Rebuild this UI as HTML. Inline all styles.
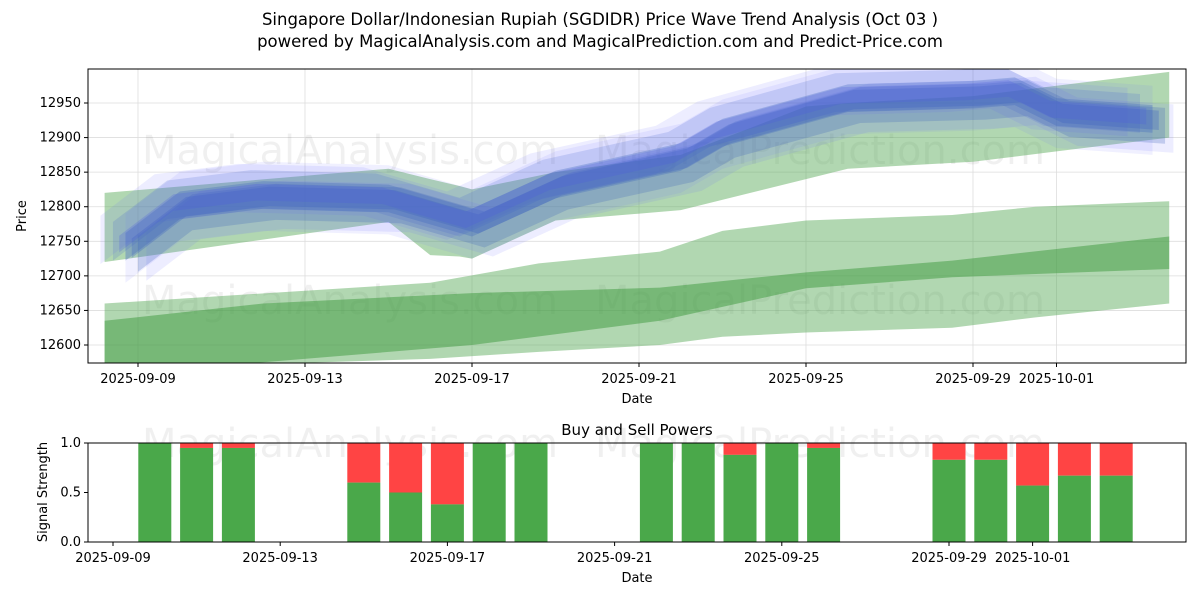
<!DOCTYPE html>
<html><head><meta charset="utf-8"><style>
body{margin:0;background:#fff;font-family:"Liberation Sans","DejaVu Sans",sans-serif}
svg text{font-family:"DejaVu Sans","Liberation Sans",sans-serif}
</style></head><body>
<svg id="c" width="1200" height="600" xmlns="http://www.w3.org/2000/svg">
<text x="600" y="25" font-size="16.5" text-anchor="middle">Singapore Dollar/Indonesian Rupiah (SGDIDR) Price Wave Trend Analysis (Oct 03 )</text>
<text x="600" y="47" font-size="16.5" text-anchor="middle">powered by MagicalAnalysis.com and MagicalPrediction.com and Predict-Price.com</text>
<g id="topPanel"></g>
<g id="botPanel"></g>
</svg>
<script>
// ---- data (day offsets from 2025-09-09) ----
const upperDates=[-0.8,6,7,7.7,8,10,13,16,17,20,22,24.7];
const upperTop=[12820,12855,12840,12830,12825,12850,12875,12945,12950,12960,12975,12995];
const upperBot=[12720,12778,12730,12728,12725,12780,12795,12840,12855,12865,12880,12900];
const lightDates=[-0.8,7,9.6,12.5,14,16,19.5,21.5,24.7];
const lightTop=[12660,12690,12718,12735,12765,12780,12788,12800,12808];
const lightBot=[12565,12580,12590,12600,12612,12618,12625,12640,12660];
const darkDates=[-0.8,3,8,12.5,16,19.5,24.7];
const darkTop=[12635,12660,12675,12683,12705,12722,12757];
const darkBot=[12560,12575,12600,12635,12682,12698,12710];
const blueDates=[-0.3,1,3,6,8,10,13,14,17,20,21,22,24.3];
const blueMid=[12740,12800,12815,12810,12775,12830,12870,12905,12955,12960,12965,12935,12925];
const sigDates=["2025-09-10","2025-09-11","2025-09-12","2025-09-15","2025-09-16","2025-09-17","2025-09-18","2025-09-19","2025-09-22","2025-09-23","2025-09-24","2025-09-25","2025-09-26","2025-09-29","2025-09-30","2025-10-01","2025-10-02","2025-10-03"];
const buyVals=[1.0,0.95,0.95,0.6,0.5,0.38,1.0,1.0,1.0,1.0,0.88,1.0,0.95,0.83,0.83,0.57,0.67,0.67];
const priceTicks=[12600,12650,12700,12750,12800,12850,12900,12950];
const dateTicks=["2025-09-09","2025-09-13","2025-09-17","2025-09-21","2025-09-25","2025-09-29","2025-10-01"];
const sigTicks=[0,0.5,1.0];

const NS="http://www.w3.org/2000/svg";
function mk(p,t,a){const e=document.createElementNS(NS,t);for(const k in a)e.setAttribute(k,a[k]);p.appendChild(e);return e;}
const T=[88,69,1186,363], B=[88,443,1186,542];
const base=Date.UTC(2025,8,9);
const dayOf=s=>(Date.parse(s+"T00:00:00Z")-base)/864e5;
const xT=d=>138+d*41.75, yT=v=>345-(v-12600)*0.6914;
const xB=d=>113+d*41.8, yB=v=>542-v*99;
const topG=document.getElementById('topPanel'), botG=document.getElementById('botPanel');

for(const v of priceTicks){const l=mk(topG,'line',{x1:T[0],x2:T[2],y1:yT(v),y2:yT(v),stroke:'#ddd','stroke-width':0.8});

}
for(const s of dateTicks){const l=mk(topG,'line',{x1:xT(dayOf(s)),x2:xT(dayOf(s)),y1:T[1],y2:T[3],stroke:'#ddd','stroke-width':0.8});

}
[[350,150],[820,150],[350,300],[820,300]].forEach((p,i)=>{const t=mk(topG,'text',{x:p[0],y:p[1]+14,'font-size':40,'text-anchor':'middle',fill:'#000','fill-opacity':0.06});
t.textContent=i%2?'MagicalPrediction.com':'MagicalAnalysis.com';

});
[[350,443],[820,443]].forEach((p,i)=>{const t=mk(botG,'text',{x:p[0],y:p[1]+14,'font-size':40,'text-anchor':'middle',fill:'#000','fill-opacity':0.06});
t.textContent=i?'MagicalPrediction.com':'MagicalAnalysis.com';

});

function band(dates,tp,bt,fill,op,name,dx){
  dx=dx||0;
  let pts=dates.map((d,i)=>xT(d+dx)+','+yT(tp[i]));
  pts=pts.concat(dates.map((d,i)=>xT(d+dx)+','+yT(bt[i])).reverse());
  const p=mk(topG,'polygon',{points:pts.join(' '),fill:fill,'fill-opacity':op,'clip-path':'url(#cp)'});
  
  
}
const clip=mk(topG,'clipPath',{id:'cp'});mk(clip,'rect',{x:T[0],y:T[1],width:T[2]-T[0],height:T[3]-T[1]});
band(lightDates,lightTop,lightBot,'#5aaa5a',0.47,'lower-wide-band');
band(darkDates,darkTop,darkBot,'#3d9a3d',0.5,'lower-core-band');
band(upperDates,upperTop,upperBot,'#5aaa5a',0.47,'upper-band');
// [yOffset, halfWidth, color, opacity, dateShift]
const layers=[[0,50,'#7070ff',0.1,0],[12,35,'#6a6aff',0.12,-0.6],[-12,35,'#6a6aff',0.12,0.5],[10,28,'#4a6ad0',0.2,-0.3],[-8,26,'#3f64bc',0.25,0.3],[2,20,'#3d62bd',0.3,0],[0,14,'#3a5fc0',0.3,0.15],[6,12,'#4a5ae0',0.25,-0.15]];
layers.forEach(L=>band(blueDates,blueMid.map(v=>v+L[0]+L[1]),blueMid.map(v=>v+L[0]-L[1]),L[2],L[3],'price-wave-band',L[4]));
let r=mk(topG,'rect',{x:T[0],y:T[1],width:T[2]-T[0],height:T[3]-T[1],fill:'none',stroke:'#000','stroke-width':1});


for(const v of priceTicks){mk(topG,'line',{x1:T[0]-4,x2:T[0],y1:yT(v),y2:yT(v),stroke:'#000'});
const t=mk(topG,'text',{x:T[0]-7,y:yT(v)+4,'font-size':13,'text-anchor':'end'});t.textContent=v;

}
for(const s of dateTicks){const x=xT(dayOf(s));mk(topG,'line',{x1:x,x2:x,y1:T[3],y2:T[3]+4,stroke:'#000'});
const t=mk(topG,'text',{x:x,y:T[3]+20,'font-size':13,'text-anchor':'middle'});t.textContent=s;

}
let t=mk(topG,'text',{x:637,y:403,'font-size':13,'text-anchor':'middle'});t.textContent='Date';


t=mk(topG,'text',{x:26,y:216,'font-size':13,'text-anchor':'middle',transform:'rotate(-90 26 216)'});t.textContent='Price';



t=mk(botG,'text',{x:637,y:435,'font-size':15,'text-anchor':'middle'});t.textContent='Buy and Sell Powers';


sigDates.forEach((s,i)=>{const x=xB(dayOf(s))-16.5;
 const r1=mk(botG,'rect',{x:x,y:yB(1),width:33,height:yB(buyVals[i])-yB(1),fill:'#ff4444'});
 
 
 const r2=mk(botG,'rect',{x:x,y:yB(buyVals[i]),width:33,height:yB(0)-yB(buyVals[i]),fill:'#4aa84a'});
 
 });
r=mk(botG,'rect',{x:B[0],y:B[1],width:B[2]-B[0],height:B[3]-B[1],fill:'none',stroke:'#000','stroke-width':1});


for(const v of sigTicks){mk(botG,'line',{x1:B[0]-4,x2:B[0],y1:yB(v),y2:yB(v),stroke:'#000'});
const tt=mk(botG,'text',{x:B[0]-7,y:yB(v)+4,'font-size':13,'text-anchor':'end'});tt.textContent=v.toFixed(1);

}
for(const s of dateTicks){const x=xB(dayOf(s));mk(botG,'line',{x1:x,x2:x,y1:B[3],y2:B[3]+4,stroke:'#000'});
const tt=mk(botG,'text',{x:x,y:B[3]+20,'font-size':13,'text-anchor':'middle'});tt.textContent=s;

}
t=mk(botG,'text',{x:637,y:582,'font-size':13,'text-anchor':'middle'});t.textContent='Date';


t=mk(botG,'text',{x:47,y:492,'font-size':13,'text-anchor':'middle',transform:'rotate(-90 47 492)'});t.textContent='Signal Strength';


</script>
</body></html>
